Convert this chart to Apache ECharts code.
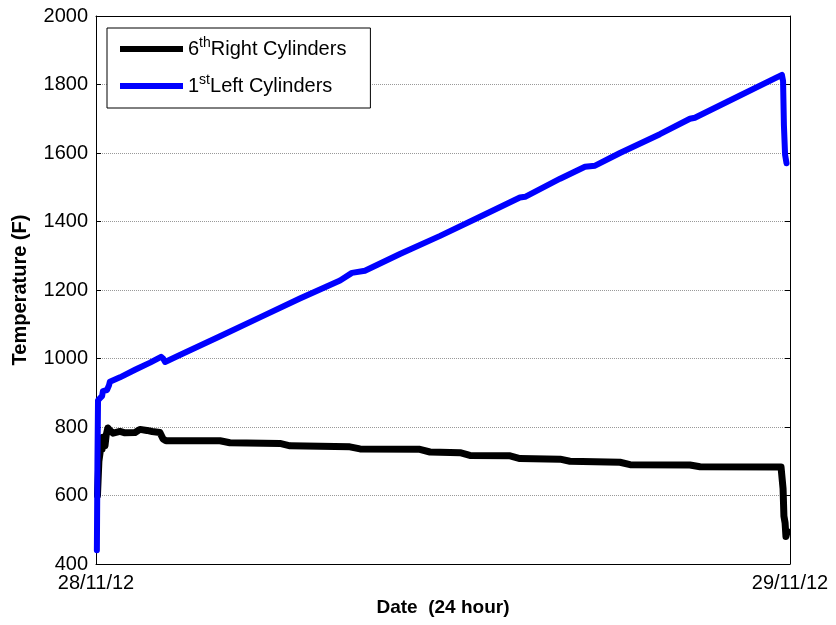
<!DOCTYPE html>
<html>
<head>
<meta charset="utf-8">
<script src="https://cdn.jsdelivr.net/npm/echarts@6/dist/echarts.min.js"></script>
<style>
html,body{margin:0;padding:0;background:#fff;}
#chart{width:836px;height:625px;}
</style>
</head>
<body>
<div id="chart"></div>
<script>
// ---- data (hours after 28/11/12 00:00) ----
var xTickLabels = ['28/11/12', '29/11/12'];
var yTicks = [400, 600, 800, 1000, 1200, 1400, 1600, 1800, 2000];

var rightHours = [0.05,0.07,0.10,0.14,0.17,0.21,0.24,0.31,0.35,0.41,0.48,0.59,0.83,1.00,1.35,1.52,1.76,1.94,2.21,2.32,2.42,4.29,4.63,6.36,6.71,8.78,9.13,11.2,11.55,12.59,12.93,14.32,14.66,16.05,16.39,18.12,18.47,20.54,20.89,23.69,23.76,23.79,23.83,23.86,23.90];
var rightTemps = [600,640,700,725,760,735,770,745,775,797,790,782,787,783,784,793,790,787,784,765,760,760,754,752,745,742,736,735,727,725,717,716,708,706,700,697,690,689,684,683,620,540,520,480,495];

var leftHours = [0.03,0.05,0.07,0.14,0.21,0.24,0.38,0.45,0.48,0.83,1.35,1.87,2.25,2.32,2.39,2.90,4.29,5.67,7.05,8.44,8.85,9.30,10.51,11.90,13.28,14.66,14.84,16.05,16.91,17.26,18.12,19.50,20.54,20.71,22.27,23.72,23.76,23.79,23.83,23.88];
var leftTemps = [440,700,878,884,890,905,908,922,932,945,967,988,1005,1000,990,1010,1065,1120,1175,1228,1250,1256,1305,1358,1414,1470,1472,1525,1560,1563,1600,1655,1700,1703,1768,1828,1810,1680,1595,1570];

var seriesNames = ['6{sup|th}Right Cylinders', '1{sup|st}Left Cylinders'];

function pairs(xs, ys){ return xs.map(function(x,i){ return [x, ys[i]]; }); }

var FONT = '"Liberation Sans", Arial, sans-serif';
var chart = echarts.init(document.getElementById('chart'), null, {renderer:'canvas'});

var xLabelFmt = function(v){ return v === 0 ? xTickLabels[0] : (v === 24 ? xTickLabels[1] : ''); };

chart.setOption({
  animation: false,
  backgroundColor: '#fff',
  grid: {left: 96, right: 46, top: 16, bottom: 61},
  legend: {
    orient: 'vertical',
    left: 107, top: 28,
    padding: [8, 24, 9, 13],
    itemGap: 11,
    itemWidth: 63, itemHeight: 6,
    icon: 'rect',
    backgroundColor: '#fff',
    borderColor: '#000', borderWidth: 1,
    borderRadius: 0,
    data: ['R', 'L'],
    formatter: function(n){ return n === 'R' ? seriesNames[0] : seriesNames[1]; },
    textStyle: {
      fontFamily: FONT, fontSize: 20, color: '#000', lineHeight: 26,
      rich: {
        sup: {fontFamily: FONT, fontSize: 14, verticalAlign: 'top', lineHeight: 16, color: '#000'}
      }
    }
  },
  xAxis: [{
    type: 'value', min: 0, max: 24, interval: 24, position: 'bottom',
    name: 'Date  (24 hour)', nameLocation: 'middle', nameGap: 33,
    nameTextStyle: {fontFamily: FONT, fontSize: 19, fontWeight: 'bold', color: '#000'},
    axisLine: {show: true, onZero: false, lineStyle: {color: '#000', width: 1}},
    axisTick: {show: true, inside: true, length: 5, lineStyle: {color: '#000'}},
    axisLabel: {formatter: xLabelFmt, fontFamily: FONT, fontSize: 20, color: '#000', margin: 9},
    splitLine: {show: false}
  }, {
    type: 'value', min: 0, max: 24, interval: 24, position: 'top',
    axisLine: {show: true, onZero: false, lineStyle: {color: '#000', width: 1}},
    axisTick: {show: true, inside: true, length: 5, lineStyle: {color: '#000'}},
    axisLabel: {show: false}, splitLine: {show: false}
  }],
  yAxis: [{
    type: 'value', min: yTicks[0], max: yTicks[yTicks.length-1], interval: 200, position: 'left',
    name: 'Temperature (F)', nameLocation: 'middle', nameGap: 66,
    nameTextStyle: {fontFamily: FONT, fontSize: 20, fontWeight: 'bold', color: '#000'},
    axisLine: {show: true, onZero: false, lineStyle: {color: '#000', width: 1}},
    axisTick: {show: true, inside: true, length: 5, lineStyle: {color: '#000'}},
    axisLabel: {formatter: function(v){ return String(v); }, fontFamily: FONT, fontSize: 20, color: '#000', margin: 8},
    splitLine: {show: true, lineStyle: {color: '#999', type: 'dotted', width: 1}}
  }, {
    type: 'value', min: yTicks[0], max: yTicks[yTicks.length-1], interval: 200, position: 'right',
    axisLine: {show: true, onZero: false, lineStyle: {color: '#000', width: 1}},
    axisTick: {show: true, inside: true, length: 5, lineStyle: {color: '#000'}},
    axisLabel: {show: false}, splitLine: {show: false}
  }],
  series: [{
    name: 'R', type: 'line', data: pairs(rightHours, rightTemps),
    showSymbol: false, symbol: 'none', color: '#000',
    lineStyle: {color: '#000', width: 7, cap: 'round', join: 'round'}
  }, {
    name: 'L', type: 'line', data: pairs(leftHours, leftTemps),
    showSymbol: false, symbol: 'none', color: '#0000ff',
    lineStyle: {color: '#0000ff', width: 6, cap: 'round', join: 'round'}
  }]
});
</script>
</body>
</html>
